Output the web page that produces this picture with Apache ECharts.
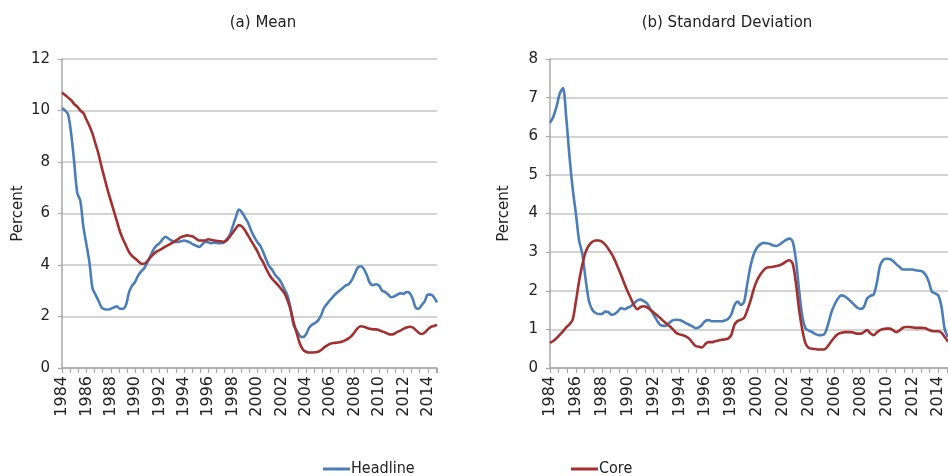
<!DOCTYPE html>
<html>
<head>
<meta charset="utf-8">
<script src="https://cdn.jsdelivr.net/npm/echarts@6/dist/echarts.min.js"></script>
<style>
  html, body { margin: 0; padding: 0; background: #ffffff; }
  #chart { width: 948px; height: 476px; }
</style>
</head>
<body>
<div id="chart"></div>
<script>
// Quarterly observation dates, 1984Q1 .. 2014Q4 (as fractional years)
const quarters = [];
for (let y = 1984; y <= 2014; y++) {
  for (let q = 0; q < 4; q++) quarters.push(y + q / 4);
}

const seriesNames = ['Headline', 'Core'];
const panelTitles = ['(a) Mean', '(b) Standard Deviation'];
const yTitle = 'Percent';

// Mean inflation across items, percent
const headlineMean = [
  10.1, 10.0, 9.85, 9.1, 8.0, 6.8, 6.5, 5.5, 4.8, 4.1, 3.1, 2.85,
  2.6, 2.35, 2.28, 2.27, 2.3, 2.35, 2.4, 2.3, 2.3, 2.45, 2.95, 3.2,
  3.35, 3.6, 3.75, 3.88, 4.1, 4.35, 4.6, 4.75, 4.85, 5.0, 5.1, 5.02,
  4.95, 4.9, 4.9, 4.92, 4.95, 4.92, 4.87, 4.8, 4.75, 4.7, 4.8, 4.9,
  4.88, 4.85, 4.87, 4.85, 4.85, 4.87, 5.0, 5.15, 5.5, 5.85, 6.15, 6.05,
  5.85, 5.65, 5.35, 5.1, 4.9, 4.75, 4.5, 4.2, 3.95, 3.8, 3.6, 3.48,
  3.3, 3.05, 2.8, 2.3, 1.65, 1.45, 1.25, 1.2, 1.3, 1.55, 1.68, 1.75,
  1.85, 2.05, 2.35, 2.5, 2.65, 2.78, 2.9, 3.0, 3.1, 3.2, 3.25, 3.4,
  3.65, 3.9, 3.95, 3.85, 3.6, 3.3, 3.22, 3.25, 3.2, 3.0, 2.95, 2.85,
  2.75, 2.78, 2.85, 2.9, 2.88, 2.95, 2.92, 2.7, 2.35, 2.3, 2.45, 2.6,
  2.85, 2.85, 2.75, 2.55
];
const coreMean = [
  10.7, 10.6, 10.5, 10.4, 10.25, 10.15, 10.0, 9.9, 9.65, 9.4, 9.1, 8.7,
  8.3, 7.8, 7.35, 6.9, 6.5, 6.1, 5.7, 5.3, 5.0, 4.75, 4.5, 4.35,
  4.25, 4.15, 4.05, 4.05, 4.15, 4.3, 4.42, 4.52, 4.58, 4.65, 4.72, 4.78,
  4.85, 4.92, 5.0, 5.08, 5.12, 5.15, 5.13, 5.1, 5.02, 4.95, 4.95, 4.95,
  5.0, 4.98, 4.95, 4.93, 4.92, 4.9, 4.95, 5.1, 5.25, 5.42, 5.55, 5.5,
  5.35, 5.15, 4.95, 4.75, 4.55, 4.3, 4.1, 3.85, 3.62, 3.45, 3.33, 3.2,
  3.05, 2.9, 2.62, 2.25, 1.75, 1.35, 0.95, 0.72, 0.63, 0.6, 0.6, 0.61,
  0.63, 0.7, 0.8, 0.88, 0.94, 0.97, 0.98, 1.0, 1.03, 1.08, 1.15, 1.25,
  1.4, 1.55, 1.62, 1.6, 1.56, 1.52, 1.5, 1.5, 1.47, 1.42, 1.38, 1.32,
  1.3, 1.33, 1.4, 1.45, 1.52, 1.57, 1.6, 1.58, 1.48, 1.37, 1.32, 1.38,
  1.5, 1.6, 1.63, 1.68
];

// Cross-sectional standard deviation, percent
const headlineSd = [
  6.35, 6.5, 6.76, 7.1, 7.25, 6.5, 5.5, 4.65, 4.0, 3.3, 2.95, 2.3,
  1.75, 1.52, 1.43, 1.4, 1.4, 1.46, 1.45, 1.38, 1.4, 1.47, 1.55, 1.52,
  1.56, 1.6, 1.68, 1.75, 1.77, 1.73, 1.67, 1.53, 1.38, 1.24, 1.12, 1.09,
  1.1, 1.18, 1.24, 1.25, 1.24, 1.21, 1.16, 1.12, 1.08, 1.03, 1.05, 1.12,
  1.22, 1.24, 1.21, 1.21, 1.21, 1.21, 1.23, 1.27, 1.38, 1.62, 1.72, 1.63,
  1.72, 2.2, 2.65, 2.95, 3.12, 3.2, 3.24, 3.23, 3.21, 3.17, 3.16, 3.2,
  3.26, 3.32, 3.35, 3.27, 2.8, 2.0, 1.32, 1.02, 0.97, 0.93, 0.88, 0.85,
  0.85, 0.9, 1.15, 1.45, 1.65, 1.8, 1.88, 1.86, 1.8, 1.72, 1.64, 1.56,
  1.53, 1.58, 1.8, 1.87, 1.9, 2.2, 2.65, 2.8, 2.83, 2.82, 2.77, 2.69,
  2.62, 2.55, 2.55, 2.55, 2.55, 2.53, 2.52, 2.5, 2.42, 2.25, 1.98, 1.93,
  1.88, 1.58, 1.0, 0.8
];
const coreSd = [
  0.65, 0.7, 0.77, 0.86, 0.95, 1.05, 1.13, 1.25, 1.72, 2.25, 2.68, 3.0,
  3.17, 3.26, 3.3, 3.3, 3.27, 3.2, 3.09, 2.96, 2.8, 2.6, 2.4, 2.18,
  1.98, 1.8, 1.62, 1.52, 1.58, 1.6, 1.57, 1.51, 1.44, 1.37, 1.3, 1.22,
  1.15, 1.08, 1.0, 0.91, 0.87, 0.85, 0.82, 0.76, 0.66, 0.57, 0.55, 0.53,
  0.62, 0.67, 0.67, 0.69, 0.71, 0.73, 0.74, 0.76, 0.85, 1.12, 1.22, 1.25,
  1.3, 1.5, 1.75, 2.05, 2.27, 2.42, 2.53, 2.6, 2.61, 2.62, 2.64, 2.66,
  2.7, 2.76, 2.79, 2.7, 2.2, 1.5, 0.98, 0.63, 0.52, 0.5, 0.49, 0.48,
  0.48, 0.49, 0.58, 0.7, 0.8, 0.88, 0.91, 0.93, 0.93, 0.93, 0.91, 0.89,
  0.89, 0.93, 0.98, 0.9, 0.85, 0.92, 0.98, 1.01, 1.02, 1.02, 0.98, 0.93,
  0.97, 1.04, 1.06, 1.06, 1.05, 1.04, 1.04, 1.04, 1.03, 0.99, 0.96, 0.95,
  0.95, 0.91, 0.8, 0.68
];

const BLUE = '#4a7ebb';
const RED = '#a3302e';
const GRID_GRAY = '#c6c6c6';
const AXIS_GRAY = '#a8a8a8';
const FONT = 'DejaVu Sans, Verdana, sans-serif';
const LEGEND_FONT = 'DejaVu Sans Condensed, Liberation Sans Narrow, sans-serif';

function pairs(values) {
  return quarters.map((t, i) => [t, values[i]]);
}

function xAxisFor(gridIndex) {
  return {
    type: 'value',
    gridIndex: gridIndex,
    min: 1984,
    max: 2014.75,
    interval: 2,
    axisLine: { show: true, lineStyle: { color: AXIS_GRAY, width: 1.5 } },
    axisTick: { show: true, length: 5, lineStyle: { color: AXIS_GRAY, width: 1.2 } },
    minorTick: { show: true, splitNumber: 3, length: 5, lineStyle: { color: AXIS_GRAY, width: 1.2 } },
    splitLine: { show: false },
    axisLabel: {
      rotate: 90,
      margin: 8,
      showMaxLabel: false,
      fontFamily: FONT,
      fontSize: 16,
      color: '#222',
      formatter: v => String(v)
    }
  };
}

function yAxisFor(gridIndex, max, interval, nameGap) {
  return {
    type: 'value',
    gridIndex: gridIndex,
    min: 0,
    max: max,
    interval: interval,
    name: yTitle,
    nameLocation: 'middle',
    nameGap: nameGap,
    nameRotate: 90,
    nameTextStyle: { fontFamily: FONT, fontSize: 15, color: '#222' },
    axisLine: { show: true, lineStyle: { color: AXIS_GRAY, width: 1.5 } },
    axisTick: { show: true, length: 4, lineStyle: { color: AXIS_GRAY, width: 1.2 } },
    splitLine: { show: true, lineStyle: { color: GRID_GRAY, width: 1.6 } },
    axisLabel: { margin: 12, fontFamily: FONT, fontSize: 15, color: '#222' }
  };
}

function lineSeries(name, color, xi, values) {
  return {
    name: name,
    type: 'line',
    xAxisIndex: xi,
    yAxisIndex: xi,
    data: pairs(values),
    symbol: 'none',
    smooth: 0.3,
    lineStyle: { color: color, width: 2.6 },
    itemStyle: { color: color },
    emphasis: { disabled: true },
    animation: false
  };
}

function legendFor(name, left) {
  return {
    data: [name], left: left, top: 456, icon: 'rect',
    itemWidth: 27, itemHeight: 3, itemGap: 2,
    textStyle: { fontFamily: LEGEND_FONT, fontSize: 16, color: '#222', padding: [0, 0, 0, -4] }
  };
}

const chart = echarts.init(document.getElementById('chart'), null, { renderer: 'canvas' });

chart.setOption({
  backgroundColor: '#ffffff',
  animation: false,
  title: [
    { text: panelTitles[0], left: 258, top: 11, textAlign: 'center',
      textStyle: { fontFamily: FONT, fontSize: 15, fontWeight: 'normal', color: '#222' } },
    { text: panelTitles[1], left: 722, top: 11, textAlign: 'center',
      textStyle: { fontFamily: FONT, fontSize: 15, fontWeight: 'normal', color: '#222' } }
  ],
  legend: [legendFor(seriesNames[0], 318), legendFor(seriesNames[1], 566)],
  grid: [
    { left: 62, top: 59, width: 375, height: 309, containLabel: false },
    { left: 550, top: 59, width: 398, height: 309, containLabel: false }
  ],
  xAxis: [xAxisFor(0), xAxisFor(1)],
  yAxis: [yAxisFor(0, 12, 2, 36), yAxisFor(1, 8, 1, 38)],
  series: [
    lineSeries(seriesNames[0], BLUE, 0, headlineMean),
    lineSeries(seriesNames[1], RED, 0, coreMean),
    lineSeries(seriesNames[0], BLUE, 1, headlineSd),
    lineSeries(seriesNames[1], RED, 1, coreSd)
  ]
});
</script>
</body>
</html>
